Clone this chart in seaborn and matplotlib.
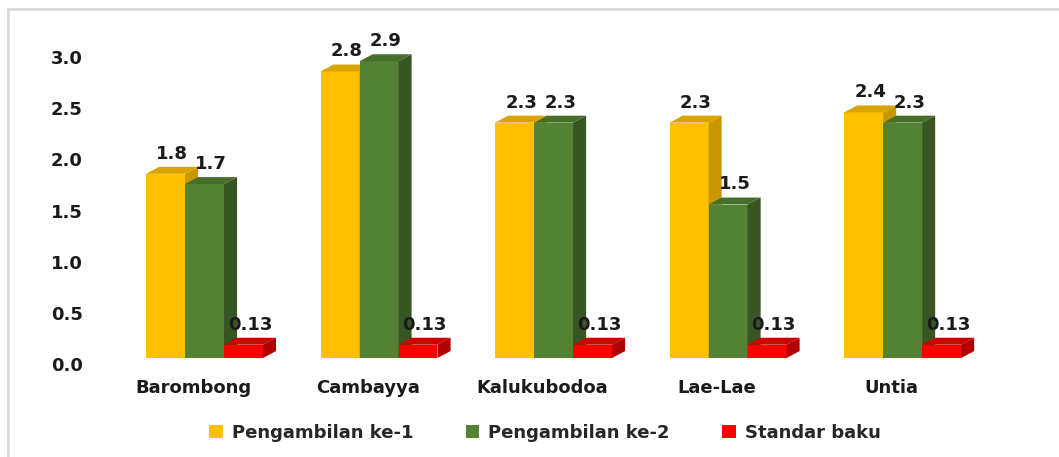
import pandas as pd
import matplotlib.pyplot as plt
import matplotlib.transforms as mtransforms
from matplotlib.patches import Polygon, Patch, Rectangle
import seaborn as sns

sns.set_style("white")
plt.rcParams['font.family'] = ['DejaVu Sans']

# data
lokasi = ["Barombong", "Cambayya", "Kalukubodoa", "Lae-Lae", "Untia"]
ambil_1 = [1.8, 2.8, 2.3, 2.3, 2.4]
ambil_2 = [1.7, 2.9, 2.3, 1.5, 2.3]
standar = [0.13, 0.13, 0.13, 0.13, 0.13]
seri = ["Pengambilan ke-1", "Pengambilan ke-2", "Standar baku"]
warna = ["#FFC000", "#548235", "#FF0000"]
warna_gelap = ["#C99700", "#375623", "#B00000"]
warna_atas = ["#D9A300", "#466F2C", "#D00000"]

df = pd.DataFrame({
    "lokasi": lokasi * 3,
    "nilai": ambil_1 + ambil_2 + standar,
    "seri": [seri[0]] * 5 + [seri[1]] * 5 + [seri[2]] * 5,
})

fig = plt.figure(figsize=(10.59, 4.57), dpi=100)
ax = fig.add_axes([0.1107, 0.2166, 0.824, 0.6718])

sns.barplot(data=df, x="lokasi", y="nilai", hue="seri", palette=warna,
            width=0.67, saturation=1, legend=False, ax=ax, errorbar=None)

# efek 3D ala excel
dx, dy = 0.075, 0.068
for i, cont in enumerate(ax.containers):
    for p in cont.patches:
        p.set_zorder(3 + i)
        p.set_linewidth(0)
        x0, w, h = p.get_x(), p.get_width(), p.get_height()
        atas = Polygon([(x0, h), (x0 + w, h), (x0 + w + dx, h + dy), (x0 + dx, h + dy)],
                       closed=True, fc=warna_atas[i], lw=0, zorder=3 + i, clip_on=False)
        sisi = Polygon([(x0 + w, 0), (x0 + w + dx, dy), (x0 + w + dx, h + dy), (x0 + w, h)],
                       closed=True, fc=warna_gelap[i], lw=0, zorder=3 + i, clip_on=False)
        ax.add_patch(atas)
        ax.add_patch(sisi)
        ax.annotate(f"{h:g}", (x0 + w / 2 + dx / 2, h + dy), xytext=(0, 3),
                    textcoords="offset points", ha="center", va="bottom",
                    fontsize=13, fontweight="bold", color="#1a1a1a", zorder=10)

ax.set_xlim(-0.5, 4.5)
ax.set_ylim(0, 3.0)
ax.set_yticks([0, 0.5, 1.0, 1.5, 2.0, 2.5, 3.0])
ax.set_yticklabels([f"{v:.1f}" for v in [0, 0.5, 1.0, 1.5, 2.0, 2.5, 3.0]])
ax.set_xlabel("")
ax.set_ylabel("")
ax.tick_params(axis="y", length=0, pad=25, labelsize=13)
ax.tick_params(axis="x", length=0, pad=15, labelsize=13)
for lab in ax.get_yticklabels() + ax.get_xticklabels():
    lab.set_fontweight("bold")
    lab.set_color("#1a1a1a")
geser_y = mtransforms.ScaledTranslation(0, -6 / 100, fig.dpi_scale_trans)
for lab in ax.get_yticklabels():
    lab.set_transform(lab.get_transform() + geser_y)
geser_x = mtransforms.ScaledTranslation(-11 / 100, 0, fig.dpi_scale_trans)
for lab in ax.get_xticklabels():
    lab.set_transform(lab.get_transform() + geser_x)
sns.despine(ax=ax, left=True, bottom=True)

handles = [Patch(fc=c, ec="none", label=s) for c, s in zip(warna, seri)]
fig.legend(handles=handles, loc="center", bbox_to_anchor=(545 / 1059, 1 - 433 / 457),
           ncol=3, frameon=False, handlelength=0.75, handleheight=0.75, handletextpad=0.5,
           columnspacing=2.9, prop={"weight": "bold", "size": 13})

# bingkai abu-abu
fig.add_artist(Rectangle((8 / 1059, -0.1), 1.2, 1 - 9 / 457 + 0.1, transform=fig.transFigure,
                         fill=False, ec="#d9d9d9", lw=2))

fig.savefig("out.png", dpi=100)
